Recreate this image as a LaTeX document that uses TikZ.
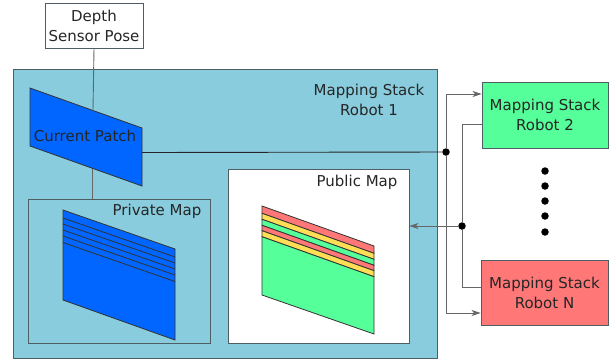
\documentclass[tikz,border=0pt]{standalone}
\usepackage{fontspec}
\setmainfont{DejaVu Sans}
\usetikzlibrary{arrows.meta}

\definecolor{stackblue}{HTML}{88CCDD}
\definecolor{patchblue}{HTML}{0066FF}
\definecolor{mapgreen}{HTML}{55FF99}
\definecolor{mapred}{HTML}{FF7777}
\definecolor{mapyellow}{HTML}{FFDD55}
\definecolor{edgegray}{HTML}{4D5F63}

\begin{document}
\begin{tikzpicture}[x=1pt, y=-1pt,
  every node/.style={font=\fontsize{15}{20}\selectfont, text=black!85},
  box/.style={rectangle, draw=edgegray, line width=0.9pt},
  sheet/.style={draw=black!80, line width=0.8pt},
  conn/.style={draw=black!60, line width=0.9pt},
  arrowto/.style={-{Stealth[length=9pt, width=6pt, inset=2.5pt]}},
  junction/.style={circle, fill=black, inner sep=0pt, minimum size=7.5pt}]

\useasboundingbox (0,0) rectangle (615,360);

\node[box, fill=white, minimum width=98pt, minimum height=45pt, align=center] (pose) at (94, 25.5) {Depth\\Sensor Pose};

% robot 1 and its two maps
\node[box, fill=stackblue, minimum width=424pt, minimum height=289pt] (robot1) at (225, 213.5) {};
\node[align=center] (robot1label) at (369, 100) {Mapping Stack\\Robot 1};

\node[box, minimum width=182pt, minimum height=144pt] (private) at (119, 271) {};
\node (privatelabel) at (157, 211) {Private Map};
\node[box, fill=white, minimum width=181pt, minimum height=174pt] (public) at (318.5, 256) {};
\node (publiclabel) at (357, 182) {Public Map};

% current patch
\draw[sheet, fill=patchblue] (30,88) -- (142,128) -- (142,186) -- (30,146) -- cycle;
\node (patch) at (85,136) {Current Patch};
\coordinate (patchtop) at (93,110.5);
\coordinate (patchbottom) at (92,168.5);
\coordinate (patchright) at (142,152.5);

% private map sheet
\draw[sheet, fill=patchblue] (63,210) -- (175,249) -- (175,340) -- (63,300) -- cycle;
\foreach \dy in {8,14,20,26,32.5}
  \draw[sheet] (63,210+\dy) -- (175,249+\dy);

% public map sheet
\foreach \top/\bot/\col in {0/7.3/mapred, 7.3/13.3/mapyellow, 13.3/19.3/mapgreen, 19.3/24.7/mapred, 24.7/30.7/mapyellow}
  \draw[sheet, fill=\col] (262,206+\top) -- (374,246+\top) -- (374,246+\bot) -- (262,206+\bot) -- cycle;
\draw[sheet, fill=mapgreen] (262,236.7) -- (374,276.7) -- (374,334) -- (262,295) -- cycle;

% other robots
\node[box, fill=mapgreen, minimum width=126pt, minimum height=66pt, align=center] (robot2) at (545,115) {Mapping Stack\\Robot 2};
\node[box, fill=mapred, minimum width=127pt, minimum height=65pt, align=center] (robotn) at (544.5,292.5) {Mapping Stack\\Robot N};

\foreach \y in {171,186,201,216,232}
  \node[junction] (more\y) at (545,\y) {};

% connections
\node[junction] (share) at (446,152) {};
\node[junction] (gather) at (462,226) {};

\draw[conn] (pose.south) -- (patchtop);
\draw[conn] (patchbottom) -- (patchbottom |- private.north);
\draw[conn, draw=black!85] (patchright) -- (share);
\draw[conn, arrowto] (share) |- ([yshift=21pt]robot2.west);
\draw[conn, arrowto] (share) |- ([yshift=-20.5pt]robotn.west);
\draw[conn] ([yshift=-9pt]robot2.west) -| (gather) |- ([yshift=5.5pt]robotn.west);
\draw[conn, arrowto] (gather) -- (gather -| public.east);

\end{tikzpicture}
\end{document}
